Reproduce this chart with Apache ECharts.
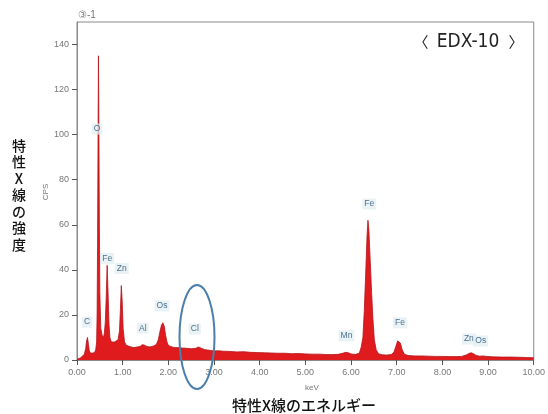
<!DOCTYPE html>
<html>
<head>
<meta charset="utf-8">
<script src="https://cdn.jsdelivr.net/npm/echarts@6/dist/echarts.min.js"></script>
<style>html,body{margin:0;padding:0;background:#fff;}#c{width:548px;height:414px;}</style>
</head>
<body>
<div id="c"></div>
<script>
// Spectrum: [keV, CPS]
const spectrum = [
[0.00,0.3],[0.04,0.6],[0.08,1],[0.12,1.5],[0.16,2.5],[0.19,5],[0.21,8.5],[0.23,10],[0.25,7],[0.27,4],
[0.30,3],[0.34,2.8],[0.38,3.2],[0.41,4.5],[0.43,8],[0.44,20],[0.45,50],[0.46,95],[0.47,135],[0.48,100],
[0.49,60],[0.50,30],[0.52,14],[0.55,11],[0.58,10],[0.60,12],[0.62,17],[0.64,28],[0.66,42],[0.68,30],
[0.70,16],[0.72,10],[0.75,8],[0.78,7.5],[0.82,8],[0.86,8.5],[0.90,9],[0.93,13],[0.95,22],[0.97,33],
[0.99,26],[1.01,14],[1.04,8],[1.08,6.5],[1.12,6],[1.18,5.8],[1.25,5.5],[1.32,5.8],[1.38,6],[1.43,6.8],
[1.48,6.6],[1.53,6],[1.60,5.8],[1.68,6.2],[1.74,7],[1.78,9],[1.82,13],[1.85,15.5],[1.88,16.5],[1.91,15],
[1.94,11],[1.97,8],[2.00,6.5],[2.05,6],[2.12,5.6],[2.20,5.5],[2.30,5.3],[2.40,5.2],[2.50,5.0],[2.60,5.2],
[2.66,5.8],[2.72,5.2],[2.80,4.6],[2.90,4.3],[3.00,4.0],[3.10,4.1],[3.20,3.9],[3.35,3.8],[3.50,3.6],[3.65,3.7],
[3.80,3.4],[3.95,3.3],[4.10,3.2],[4.25,3.1],[4.40,3.0],[4.55,3.0],[4.70,2.8],[4.85,2.9],[5.00,2.7],[5.15,2.6],
[5.30,2.6],[5.45,2.4],[5.60,2.4],[5.72,2.5],[5.82,3.0],[5.88,3.4],[5.94,3.2],[6.02,2.6],[6.10,2.5],[6.18,3.0],
[6.22,5.5],[6.26,10],[6.29,22],[6.32,38],[6.35,55],[6.37,62],[6.39,58],[6.42,44],[6.45,30],[6.48,18],
[6.51,9],[6.55,4.5],[6.60,2.8],[6.68,2.3],[6.78,2.2],[6.88,2.4],[6.94,3.5],[6.98,6],[7.02,8.5],[7.05,9],
[7.08,7.5],[7.12,4.5],[7.17,2.5],[7.25,2.0],[7.40,1.8],[7.55,1.8],[7.70,1.7],[7.85,1.6],[8.00,1.6],[8.15,1.5],
[8.30,1.5],[8.42,1.6],[8.52,2.2],[8.58,2.9],[8.63,3.2],[8.68,2.8],[8.74,2.0],[8.82,1.7],[8.90,1.8],[8.96,1.6],
[9.10,1.4],[9.30,1.3],[9.50,1.3],[9.70,1.2],[9.85,1.1],[10.0,1.0]
];
// Peak annotations
const peakNames = ['O','C','Fe','Zn','Al','Os','Cl','Mn','Fe','Fe','Zn','Os'];
const peakKeV   = [0.44,0.22,0.66,0.98,1.44,1.86,2.58,5.90,6.40,7.07,8.58,8.84];
const peakCPS   = [102.5,16.8,45.1,40.6,14.1,24.0,13.7,10.8,69.2,16.5,9.3,8.4];
const yTicks = [0,20,40,60,80,100,120,140];

const chart = echarts.init(document.getElementById('c'), null, {renderer:'canvas'});
const labelFont = 'Arial, "Liberation Sans", sans-serif';
const jp = '"Noto Sans CJK JP", sans-serif';
chart.setOption({
  animation:false,
  backgroundColor:'#fff',
  grid:{left:77,right:14,top:22,bottom:54,show:true,borderColor:'#8a8a8a',borderWidth:1,containLabel:false},
  xAxis:{type:'value',min:0,max:10,interval:1,
    axisLine:{show:true,lineStyle:{color:'#8a8a8a',width:1}},
    axisTick:{show:true,length:5,lineStyle:{color:'#555'}},
    axisLabel:{color:'#777',fontSize:9,fontFamily:labelFont,margin:8,formatter:v=>v.toFixed(2)},
    splitLine:{show:false}},
  yAxis:{type:'value',min:0,max:150,
    axisLine:{show:true,lineStyle:{color:'#8a8a8a',width:1}},
    axisTick:{show:true,length:5,lineStyle:{color:'#555'},customValues:yTicks},
    axisLabel:{color:'#777',fontSize:9,fontFamily:labelFont,margin:8,customValues:yTicks},
    splitLine:{show:false}},
  series:[{
    type:'line',data:spectrum,showSymbol:false,symbol:'none',
    lineStyle:{color:'#b5141a',width:0.8},
    areaStyle:{color:'#e01b1e',opacity:1},
    markPoint:{symbol:'rect',symbolSize:0,silent:true,
      label:{show:true,position:'inside',color:'#4d6f8f',fontSize:8.5,fontFamily:labelFont,
        backgroundColor:'rgba(225,238,240,0.75)',padding:[1,2],formatter:p=>p.name},
      data:peakNames.map((n,i)=>({name:n,coord:[peakKeV[i],peakCPS[i]]}))}
  }],
  graphic:[
    {type:'text',left:78,top:10,style:{text:'③-1',fill:'#777',font:'10px '+labelFont}},
    {type:'text',x:421,y:42,style:{text:'〈',fill:'#222',font:'15px '+jp,align:'center',verticalAlign:'middle'}},
    {type:'text',x:468,y:42,style:{text:'EDX-10',fill:'#222',font:'19px "Liberation Sans Narrow", "DejaVu Sans Condensed", sans-serif',align:'center',verticalAlign:'middle'}},
    {type:'text',x:516,y:42,style:{text:'〉',fill:'#222',font:'15px '+jp,align:'center',verticalAlign:'middle'}},
    {type:'text',x:46,y:192,rotation:Math.PI/2,style:{text:'CPS',fill:'#777',font:'8px '+labelFont,align:'center',verticalAlign:'middle'}},
    {type:'text',x:19,y:137,style:{text:'特\n性\nX\n線\nの\n強\n度',fill:'#111',font:'500 14px '+jp,align:'center',lineHeight:16.5}},
    {type:'text',x:312,y:388,style:{text:'keV',fill:'#777',font:'8px '+labelFont,align:'center',verticalAlign:'middle'}},
    {type:'text',x:304,y:405,style:{text:'特性X線のエネルギー',fill:'#111',font:'500 15px '+jp,align:'center',verticalAlign:'middle'}},
    {type:'ellipse',shape:{cx:197,cy:337,rx:17.5,ry:52},style:{fill:'none',stroke:'#4a7eab',lineWidth:2},z:100}
  ]
});
</script>
</body>
</html>
